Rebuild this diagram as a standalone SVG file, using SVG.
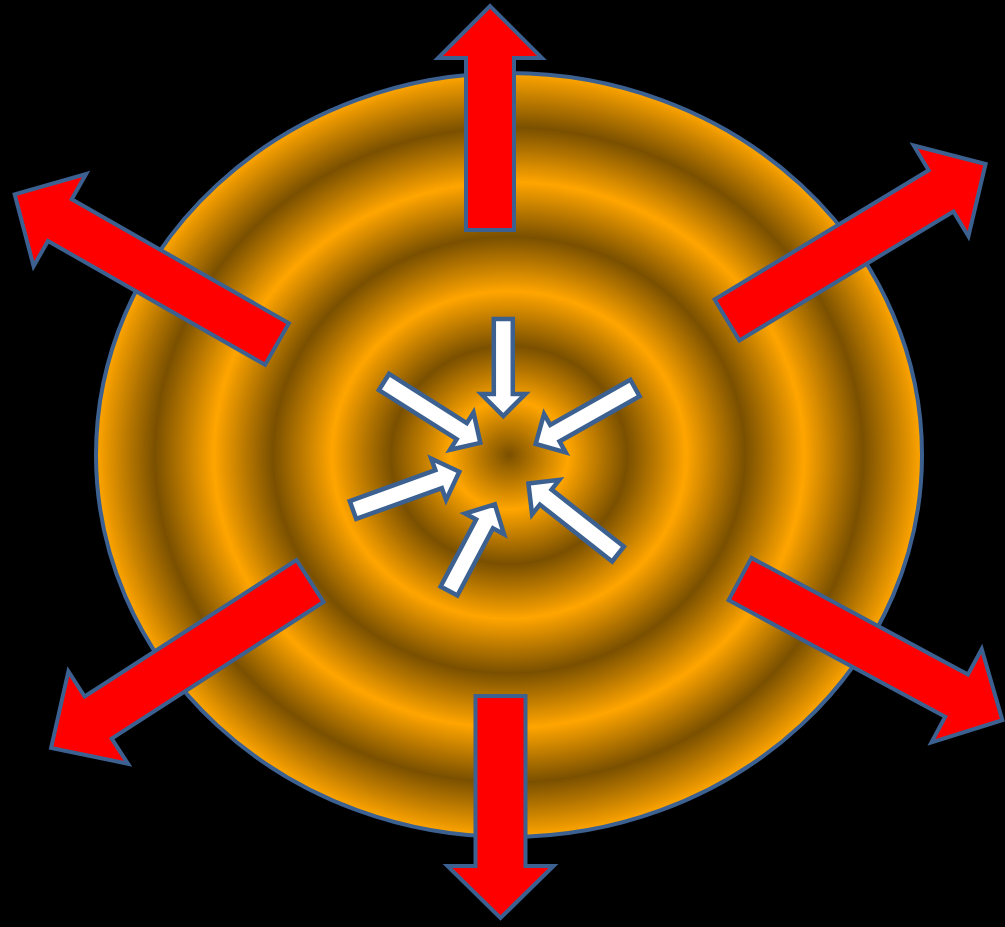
<svg xmlns="http://www.w3.org/2000/svg" width="1005" height="927" viewBox="0 0 1005 927">
<defs>
<radialGradient id="rings" cx="0.5" cy="0.5" r="0.5">
<stop offset="0" stop-color="#7A5000"/>
<stop offset="0.1429" stop-color="#FFA500"/>
<stop offset="0.2857" stop-color="#7A5000"/>
<stop offset="0.4286" stop-color="#FFA500"/>
<stop offset="0.5714" stop-color="#7A5000"/>
<stop offset="0.7143" stop-color="#FFA500"/>
<stop offset="0.8571" stop-color="#7A5000"/>
<stop offset="1" stop-color="#FFA500"/>
</radialGradient>
<style>
.red{fill:#FF0000;stroke:#3C6190;stroke-width:4;stroke-linejoin:miter;stroke-miterlimit:10}
.wht{fill:#FFFFFF;stroke:#3C6190;stroke-width:4.5;stroke-linejoin:miter;stroke-miterlimit:10}
.disc{fill:url(#rings);stroke:#3C6190;stroke-width:4}
</style>
</defs>
<rect x="0" y="0" width="1005" height="927" fill="#000000"/>
<g id="disc"><ellipse class="disc" cx="509" cy="455" rx="413" ry="382"/></g>
<g id="connectors">
<g id="out-top" transform="translate(490,230) rotate(-90)"><polygon class="red" points="0,-24 172,-24 172,-52 224,0 172,52 172,24 0,24"/></g>
<g id="out-bottom" transform="translate(500.5,696) rotate(90)"><polygon class="red" points="0,-25 170,-25 170,-53 222,0 170,53 170,25 0,25"/></g>
<g id="out-upleft" transform="translate(277,344) rotate(209.7)"><polygon class="red" points="0,-24 250,-24 250,-53 302,0 250,53 250,24 0,24"/></g>
<g id="out-upright" transform="translate(727,320) rotate(-31.1)"><polygon class="red" points="0,-24 250,-24 250,-53 302,0 250,53 250,24 0,24"/></g>
<g id="out-lowleft" transform="translate(310,581) rotate(147.2)"><polygon class="red" points="0,-25 252,-25 252,-55 308,0 252,55 252,25 0,25"/></g>
<g id="out-lowright" transform="translate(740,579) rotate(28.3)"><polygon class="red" points="0,-24 246,-24 246,-53 298,0 246,53 246,24 0,24"/></g>
<g id="in-top" transform="translate(503.3,319) rotate(90)"><polygon class="wht" points="0,-9.5 75,-9.5 75,-22 97,0 75,22 75,9.5 0,9.5"/></g>
<g id="in-upleft" transform="translate(384,382) rotate(32.3)"><polygon class="wht" points="0,-9.5 92,-9.5 92,-22 114,0 92,22 92,9.5 0,9.5"/></g>
<g id="in-upright" transform="translate(635,388) rotate(150.6)"><polygon class="wht" points="0,-9.5 92,-9.5 92,-22 114,0 92,22 92,9.5 0,9.5"/></g>
<g id="in-left" transform="translate(353,510) rotate(-19.8)"><polygon class="wht" points="0,-9.5 91,-9.5 91,-22 113,0 91,22 91,9.5 0,9.5"/></g>
<g id="in-bottom" transform="translate(449,591) rotate(-62.1)"><polygon class="wht" points="0,-9.5 76,-9.5 76,-22 98,0 76,22 76,9.5 0,9.5"/></g>
<g id="in-lowright" transform="translate(618,554) rotate(-141.8)"><polygon class="wht" points="0,-9.5 92,-9.5 92,-22 114,0 92,22 92,9.5 0,9.5"/></g>
</g>
</svg>
